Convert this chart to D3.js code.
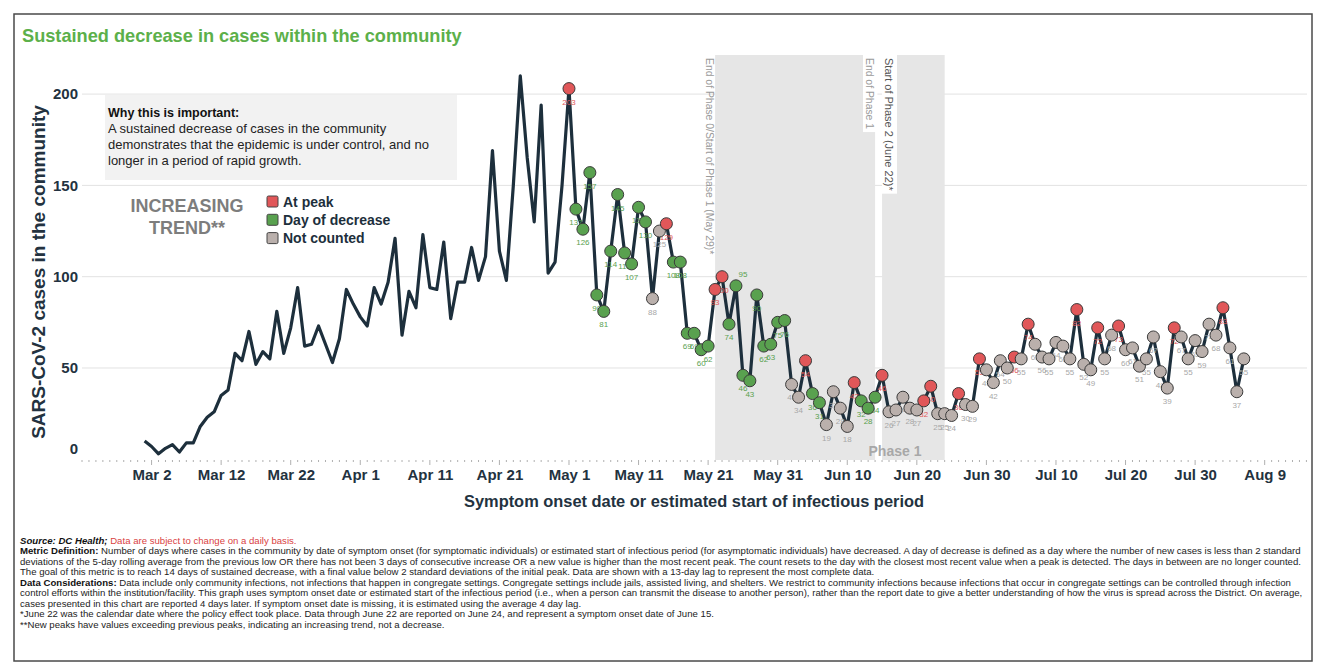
<!DOCTYPE html>
<html>
<head>
<meta charset="utf-8">
<title>Sustained decrease in cases within the community</title>
<style>
  body { margin: 0; background: #fff; }
  svg { display: block; font-family: Arial, "Liberation Sans", sans-serif; }
</style>
</head>
<body>
<div id="chart"></div>
<script src="https://d3js.org/d3.v7.min.js"></script>
<script>
// daily community cases, starting Mar 1 2020 (one value per day)
var firstDay = "2020-03-01";
var cases = [
  10, 7, 3, 6, 8, 4, 9, 9, 18, 23, 26, 35, 38, 58, 54, 70, 52, 59, 55, 81,
  58, 72, 94, 62, 63, 73, 63, 53, 66, 93, 85, 78, 73, 94, 85, 97, 121, 68, 92, 83,
  123, 94, 93, 119, 77, 97, 97, 116, 98, 111, 169, 114, 98, 150, 210, 165, 130, 194, 102, 108,
  150, 203, 137, 126, 157, 90, 81, 114, 145, 113, 107, 138, 130, 88, 125, 129, 108, 108, 69, 69,
  60, 62, 93, 100, 74, 95, 46, 43, 90, 62, 63, 75, 76, 41, 34, 54, 36, 31, 19, 37,
  28, 18, 42, 32, 28, 34, 46, 26, 27, 34, 28, 27, 32, 40, 25, 25, 24, 36, 30, 29,
  55, 49, 42, 54, 50, 56, 55, 74, 63, 56, 55, 64, 62, 55, 82, 52, 49, 72, 55, 68,
  73, 60, 61, 51, 55, 67, 48, 39, 72, 67, 55, 65, 59, 74, 68, 83, 61, 37, 55
];

// status of each day from May 1 on: P = at peak, D = day of decrease, N = not counted
var statusStart = "2020-05-01";
var dayStatus = ("P" + "DDDDDDDDDDD" + "NN" + "P" + "DDDDDD" + "PP" + "DDDDDDDDD" + "NN" + "P" +
  "DD" + "NNNN" + "P" + "DDD" + "P" + "NNNNN" + "PP" + "NNN" + "P" + "NN" + "P" + "NNNN" +
  "P" + "N" + "P" + "NNNNNN" + "P" + "NN" + "P" + "NN" + "P" + "NNNNNNN" + "P" + "NNNNNN" +
  "P" + "NNN").split("");
// days whose value label sits above the mark
var labelAbove = ["2020-05-25"];

var legendLabels = ["At peak", "Day of decrease", "Not counted"];
var tickLabels = ["Mar 2", "Mar 12", "Mar 22", "Apr 1", "Apr 11", "Apr 21", "May 1", "May 11",
  "May 21", "May 31", "Jun 10", "Jun 20", "Jun 30", "Jul 10", "Jul 20", "Jul 30", "Aug 9"];
var yTicks = [0, 50, 100, 150, 200];

// shaded phase periods (symptom onset dates)
var phaseBands = [["2020-05-22", "2020-06-14"], ["2020-06-15", "2020-06-24"]];

var footNotes = [
  [["Source: DC Health;", "bi"], [" Data are subject to change on a daily basis.", "red"]],
  [["Metric Definition:", "b"], [" Number of days where cases in the community by date of symptom onset (for symptomatic individuals) or estimated start of infectious period (for asymptomatic individuals) have decreased. A day of decrease is defined as a day where the number of new cases is less than 2 standard", ""]],
  [["deviations of the 5-day rolling average from the previous low OR there has not been 3 days of consecutive increase OR a new value is higher than the most recent peak. The count resets to the day with the closest most recent value when a peak is detected. The days in between are no longer counted.", ""]],
  [["The goal of this metric is to reach 14 days of sustained decrease, with a final value below 2 standard deviations of the initial peak. Data are shown with a 13-day lag to represent the most complete data.", ""]],
  [["Data Considerations:", "b"], [" Data include only community infections, not infections that happen in congregate settings. Congregate settings include jails, assisted living, and shelters. We restrict to community infections because infections that occur in congregate settings can be controlled through infection", ""]],
  [["control efforts within the institution/facility. This graph uses symptom onset date or estimated start of the infectious period (i.e., when a person can transmit the disease to another person), rather than the report date to give a better understanding of how the virus is spread across the District. On average,", ""]],
  [["cases presented in this chart are reported 4 days later. If symptom onset date is missing, it is estimated using the average 4 day lag.", ""]],
  [["*June 22 was the calendar date where the policy effect took place. Data through June 22 are reported on June 24, and represent a symptom onset date of June 15.", ""]],
  [["**New peaks have values exceeding previous peaks, indicating an increasing trend, not a decrease.", ""]]
];

var width = 1324, height = 670;
var navy = "#1d2f3c";
var colors = { P: "#e15759", D: "#59a14f", N: "#bab0ac" };
var labelColors = { P: "#e15759", D: "#59a14f", N: "#a8a8a8" };

var parse = d3.utcParse("%Y-%m-%d");
var start = parse(firstDay);
var data = cases.map(function (v, i) {
  return { date: d3.utcDay.offset(start, i), value: v };
});
var pStart = parse(statusStart);
var aboveSet = labelAbove.map(function (s) { return +parse(s); });
var points = dayStatus.map(function (s, i) {
  var d = d3.utcDay.offset(pStart, i);
  var idx = d3.utcDay.count(start, d);
  return { date: d, value: cases[idx], status: s, above: aboveSet.indexOf(+d) >= 0 };
});

var svg = d3.select("#chart").append("svg")
  .attr("width", width)
  .attr("height", height);

// frame
svg.append("rect")
  .attr("x", 14).attr("y", 14)
  .attr("width", 1298).attr("height", 647)
  .attr("fill", "#fff")
  .attr("stroke", "#4a4a4a")
  .attr("stroke-width", 1.5);

var x = d3.scaleUtc()
  .domain([new Date(Date.UTC(2020, 1, 21)), new Date(Date.UTC(2020, 7, 15, 2))])
  .range([82, 1307]);
var y = d3.scaleLinear()
  .domain([0, 221.4])
  .range([459.3, 55]);

// title
svg.append("text")
  .attr("x", 22).attr("y", 42)
  .attr("font-size", 18.2).attr("font-weight", "bold")
  .attr("fill", "#5cb04a")
  .text("Sustained decrease in cases within the community");

// gridlines
svg.append("g")
  .selectAll("line")
  .data(yTicks.filter(function (d) { return d > 0; }))
  .enter().append("line")
  .attr("x1", 82).attr("x2", 1307)
  .attr("y1", function (d) { return y(d); })
  .attr("y2", function (d) { return y(d); })
  .attr("stroke", "#e2e2e2");

// phase bands
svg.append("g")
  .selectAll("rect")
  .data(phaseBands)
  .enter().append("rect")
  .attr("x", function (d) { return x(parse(d[0])); })
  .attr("width", function (d) { return x(parse(d[1])) - x(parse(d[0])); })
  .attr("y", 55)
  .attr("height", 405)
  .attr("fill", "#e6e6e6");

// phase annotations (rotated)
function vlabel(xp, txt, color, size, box) {
  var g = svg.append("g").attr("transform", "translate(" + xp + ",58) rotate(90)");
  var t = g.append("text")
    .attr("x", 0).attr("y", 0)
    .attr("font-size", size)
    .attr("fill", color)
    .text(txt);
  if (box) {
    var len = t.node().getComputedTextLength();
    g.insert("rect", "text")
      .attr("x", -3).attr("y", -size - 1)
      .attr("width", len + 6).attr("height", size + 4)
      .attr("fill", "#fff");
  }
}
vlabel(706, "End of Phase 0/Start of Phase 1 (May 29)*", "#9a9a9a", 10.4, false);
vlabel(866, "End of Phase 1", "#9a9a9a", 10.4, true);
vlabel(885, "Start of Phase 2 (June 22)*", "#555", 11, true);

svg.append("text")
  .attr("x", 895).attr("y", 456)
  .attr("text-anchor", "middle")
  .attr("font-size", 14).attr("font-weight", "bold")
  .attr("fill", "#a8a8a8")
  .text("Phase 1");

// "why this is important" box
svg.append("rect")
  .attr("x", 105).attr("y", 95)
  .attr("width", 352).attr("height", 85)
  .attr("fill", "#f2f2f2");
svg.append("text")
  .attr("x", 108).attr("y", 117)
  .attr("font-size", 12.5).attr("font-weight", "bold")
  .attr("fill", "#111")
  .text("Why this is important:");
["A sustained decrease of cases in the community",
 "demonstrates that the epidemic is under control, and no",
 "longer in a period of rapid growth."].forEach(function (l, i) {
  svg.append("text")
    .attr("x", 108).attr("y", 133 + i * 16)
    .attr("font-size", 13)
    .attr("fill", "#222")
    .text(l);
});

// increasing trend note
["INCREASING", "TREND**"].forEach(function (l, i) {
  svg.append("text")
    .attr("x", 187).attr("y", 212 + i * 21.5)
    .attr("text-anchor", "middle")
    .attr("font-size", 18).attr("font-weight", "bold")
    .attr("fill", "#7d7d7d")
    .text(l);
});

// legend
var legend = svg.append("g").attr("transform", "translate(267,196)");
["P", "D", "N"].forEach(function (k, i) {
  var row = legend.append("g").attr("transform", "translate(0," + i * 18.3 + ")");
  row.append("rect")
    .attr("width", 11).attr("height", 11)
    .attr("rx", 1.5)
    .attr("fill", colors[k])
    .attr("stroke", "#444");
  row.append("text")
    .attr("x", 16).attr("y", 10.5)
    .attr("font-size", 14).attr("font-weight", "bold")
    .attr("fill", navy)
    .text(legendLabels[i]);
});

// x axis
var tickDates = tickLabels.map(function (l) { return d3.utcParse("%b %d %Y")(l + " 2020"); });
var days = d3.utcDay.range(x.domain()[0], x.domain()[1]);
svg.append("g")
  .selectAll("line")
  .data(days)
  .enter().append("line")
  .attr("x1", function (d) { return x(d); })
  .attr("x2", function (d) { return x(d); })
  .attr("y1", 460)
  .attr("y2", function (d) {
    return tickDates.some(function (t) { return +t === +d; }) ? 465 : 462;
  })
  .attr("stroke", "#b0b0b0");

var xAxis = svg.append("g")
  .attr("transform", "translate(0,460)")
  .call(d3.axisBottom(x)
    .tickValues(tickDates)
    .tickFormat(function (d, i) { return tickLabels[i]; })
    .tickSize(0)
    .tickPadding(9));
xAxis.select(".domain").remove();
xAxis.selectAll("text")
  .attr("font-family", "Arial, 'Liberation Sans', sans-serif")
  .attr("font-size", 15).attr("font-weight", "bold")
  .attr("fill", "#233240");

// y axis labels
var yAxis = svg.append("g")
  .attr("transform", "translate(78,0)")
  .call(d3.axisLeft(y).tickValues(yTicks).tickSize(0).tickPadding(0));
yAxis.select(".domain").remove();
yAxis.selectAll("text")
  .attr("font-family", "Arial, 'Liberation Sans', sans-serif")
  .attr("font-size", 15).attr("font-weight", "bold")
  .attr("fill", "#233240")
  .attr("dy", function (d) { return d === 0 ? "-0.4em" : "0.32em"; });

// axis titles
svg.append("text")
  .attr("x", 694).attr("y", 507)
  .attr("text-anchor", "middle")
  .attr("font-size", 16.4).attr("font-weight", "bold")
  .attr("fill", "#233240")
  .text("Symptom onset date or estimated start of infectious period");
svg.append("text")
  .attr("transform", "translate(45,272) rotate(-90)")
  .attr("text-anchor", "middle")
  .attr("font-size", 19).attr("font-weight", "bold")
  .attr("fill", "#233240")
  .text("SARS-CoV-2 cases in the community");

// line
var line = d3.line()
  .x(function (d) { return x(d.date); })
  .y(function (d) { return y(d.value); });
svg.append("path")
  .datum(data)
  .attr("d", line)
  .attr("fill", "none")
  .attr("stroke", navy)
  .attr("stroke-width", 3.2)
  .attr("stroke-linejoin", "round");

// point labels, then circles
svg.append("g")
  .selectAll("text")
  .data(points)
  .enter().append("text")
  .attr("x", function (d) { return x(d.date) + (d.above ? 7 : 0); })
  .attr("y", function (d) { return y(d.value) + (d.above ? -9 : 16); })
  .attr("text-anchor", "middle")
  .attr("font-size", 8)
  .attr("fill", function (d) { return labelColors[d.status]; })
  .text(function (d) { return d.value; });

svg.append("g")
  .selectAll("circle")
  .data(points)
  .enter().append("circle")
  .attr("cx", function (d) { return x(d.date); })
  .attr("cy", function (d) { return y(d.value); })
  .attr("r", 6)
  .attr("fill", function (d) { return colors[d.status]; })
  .attr("stroke", "#3a3a3a")
  .attr("stroke-width", 1);

// footnotes, condensed to fit the frame width
var notes = svg.append("g");
footNotes.forEach(function (parts, i) {
  var t = notes.append("text")
    .attr("x", 0).attr("y", 544 + i * 10.5)
    .attr("font-size", 9.6)
    .attr("fill", "#222");
  parts.forEach(function (p) {
    var s = t.append("tspan").text(p[0]);
    if (p[1].indexOf("b") >= 0) s.attr("font-weight", "bold").attr("fill", "#111");
    if (p[1].indexOf("i") >= 0) s.attr("font-style", "italic");
    if (p[1] === "red") s.attr("fill", "#d9423f");
  });
});
var fullLen = notes.selectAll("text").nodes()[1].getComputedTextLength();
var sx = 1282 / fullLen;
notes.attr("transform", "translate(20,0) scale(" + sx + ",1)");
</script>
</body>
</html>
